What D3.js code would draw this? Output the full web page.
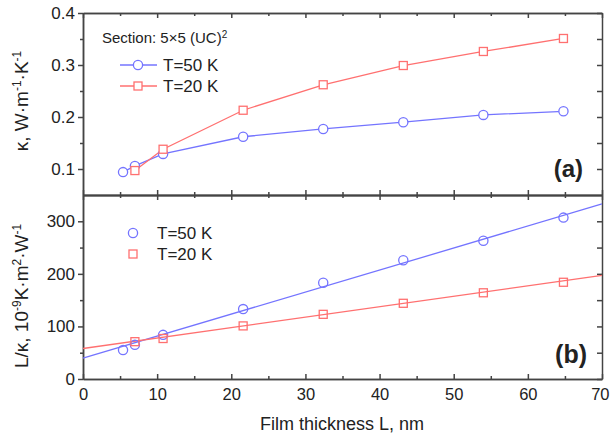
<!DOCTYPE html>
<html lang="en">
<head>
<meta charset="UTF-8">
<title>Thermal conductivity vs film thickness</title>
<script src="https://d3js.org/d3.v7.min.js"></script>
<style>
  body { margin: 0; background: #fff; }
  svg text { font-family: "Liberation Sans", Arial, sans-serif; fill: #222; }
  .frame path, .frame line { stroke: #444; stroke-width: 1.5px; }
</style>
</head>
<body>
<div id="chart"></div>
<script>
// film thickness L, nm
const thick50 = [5.4, 7.0, 10.8, 21.6, 32.4, 43.2, 54.0, 64.8];
const thick20 = [7.0, 10.8, 21.6, 32.4, 43.2, 54.0, 64.8];
// (a) kappa, W/m/K
const kappa50 = [0.094, 0.106, 0.129, 0.162, 0.177, 0.190, 0.204, 0.211];
const kappa20 = [0.097, 0.138, 0.213, 0.262, 0.299, 0.326, 0.351];
// (b) L/kappa
const ratio50 = [55, 65, 84, 133, 183, 226, 263, 307];
const ratio20 = [71, 77, 101, 123, 144, 164, 184];
// linear fits, end points at L = 0 and 70
const fitL = [0, 70];
const fit50 = [39.5, 333];
const fit20 = [58, 197];

const xTicks = [0, 10, 20, 30, 40, 50, 60, 70];
const kappaTicks = [0.1, 0.2, 0.3, 0.4];
const ratioTicks = [0, 100, 200, 300];

const blue = "#7474ff", red = "#ff7070";

const svg = d3.select("#chart").append("svg")
    .attr("width", 610).attr("height", 438);

const x = d3.scaleLinear().domain([0, 70]).range([83, 602]);
const yA = d3.scaleLinear().domain([0.05, 0.4]).range([195, 13]);
const yB = d3.scaleLinear().domain([0, 350]).range([379, 195]);

const minorX = d3.range(5, 70, 10);

function frame(y, ticks, minor, fmt, tickSide) {
    const g = svg.append("g").attr("class", "frame");
    const [y0, y1] = y.range();
    // left axis, outward ticks with labels
    g.append("g").attr("transform", `translate(${x(0)},0)`)
        .call(d3.axisLeft(y).tickValues(ticks).tickFormat(fmt).tickSize(5).tickPadding(3).tickSizeOuter(0))
        .selectAll("text").style("font-size", "17px");
    g.append("g").attr("transform", `translate(${x(0)},0)`)
        .call(d3.axisLeft(y).tickValues(minor).tickFormat("").tickSize(3).tickSizeOuter(0));
    // right axis, inward ticks
    g.append("g").attr("transform", `translate(${x(70)},0)`)
        .call(d3.axisRight(y).tickValues(ticks.concat(minor)).tickFormat("").tickSize(-5).tickSizeOuter(0));
    // bottom axis, inward ticks
    const b = g.append("g").attr("transform", `translate(0,${y0})`);
    b.call(d3.axisBottom(x).tickValues(xTicks).tickSize(-5).tickPadding(9).tickSizeOuter(0)
        .tickFormat(tickSide ? d3.format("d") : ""));
    b.selectAll("text").style("font-size", "16.5px");
    // last label sits on the edge of the page
    b.selectAll("text").filter(d => d === 70).attr("text-anchor", "end").attr("dx", 7);
    g.append("g").attr("transform", `translate(0,${y0})`)
        .call(d3.axisBottom(x).tickValues(minorX).tickFormat("").tickSize(-3).tickSizeOuter(0));
    // top axis, inward ticks
    g.append("g").attr("transform", `translate(0,${y1})`)
        .call(d3.axisTop(x).tickValues(xTicks).tickFormat("").tickSize(-5).tickSizeOuter(0));
    g.append("g").attr("transform", `translate(0,${y1})`)
        .call(d3.axisTop(x).tickValues(minorX).tickFormat("").tickSize(-3).tickSizeOuter(0));
    g.selectAll(".domain").attr("stroke", "#444");
    g.selectAll(".tick line").attr("stroke", "#444");
}

frame(yA, kappaTicks, [0.15, 0.25, 0.35], d3.format(".1f"), false);
frame(yB, ratioTicks, [50, 150, 250], d3.format("d"), true);

function circles(xs, ys, y, fill) {
    svg.append("g").selectAll("circle").data(xs).join("circle")
        .attr("cx", d => x(d)).attr("cy", (d, i) => y(ys[i])).attr("r", 4.6)
        .attr("fill", fill).attr("stroke", blue).attr("stroke-width", 1.3);
}
function squares(xs, ys, y, fill) {
    svg.append("g").selectAll("rect").data(xs).join("rect")
        .attr("x", d => x(d) - 4).attr("y", (d, i) => y(ys[i]) - 4)
        .attr("width", 8).attr("height", 8)
        .attr("fill", fill).attr("stroke", red).attr("stroke-width", 1.3);
}
function line(xs, ys, y, color) {
    svg.append("path").datum(xs)
        .attr("fill", "none").attr("stroke", color).attr("stroke-width", 1.3)
        .attr("d", d3.line().x(d => x(d)).y((d, i) => y(ys[i])));
}

// panel (a)
line(thick50, kappa50, yA, blue);
line(thick20, kappa20, yA, red);
circles(thick50, kappa50, yA, "#fff");
squares(thick20, kappa20, yA, "#fff");

// panel (b)
line(fitL, fit50, yB, blue);
line(fitL, fit20, yB, red);
circles(thick50, ratio50, yB, "none");
squares(thick20, ratio20, yB, "none");

// legend (a)
const sec = svg.append("text").attr("x", 102).attr("y", 43).style("font-size", "15px");
sec.append("tspan").text("Section: 5\u00d75 (UC)");
sec.append("tspan").attr("baseline-shift", "super").style("font-size", "10px").text("2");

const legA = [
    {label: "T=50 K", color: blue, shape: "circle", y: 65},
    {label: "T=20 K", color: red, shape: "square", y: 86}
];
legA.forEach(d => {
    svg.append("line").attr("x1", 120).attr("x2", 157).attr("y1", d.y).attr("y2", d.y)
        .attr("stroke", d.color).attr("stroke-width", 1.3);
    if (d.shape === "circle")
        svg.append("circle").attr("cx", 138).attr("cy", d.y).attr("r", 4.6)
            .attr("fill", "#fff").attr("stroke", d.color).attr("stroke-width", 1.3);
    else
        svg.append("rect").attr("x", 134).attr("y", d.y - 4).attr("width", 8).attr("height", 8)
            .attr("fill", "#fff").attr("stroke", d.color).attr("stroke-width", 1.3);
    svg.append("text").attr("x", 163).attr("y", d.y + 6).style("font-size", "17px").text(d.label);
});

// legend (b)
const legB = [
    {label: "T=50 K", color: blue, shape: "circle", y: 233},
    {label: "T=20 K", color: red, shape: "square", y: 254}
];
legB.forEach(d => {
    if (d.shape === "circle")
        svg.append("circle").attr("cx", 133).attr("cy", d.y).attr("r", 4.6)
            .attr("fill", "none").attr("stroke", d.color).attr("stroke-width", 1.3);
    else
        svg.append("rect").attr("x", 129).attr("y", d.y - 4).attr("width", 8).attr("height", 8)
            .attr("fill", "none").attr("stroke", d.color).attr("stroke-width", 1.3);
    svg.append("text").attr("x", 157).attr("y", d.y + 6).style("font-size", "17px").text(d.label);
});

// panel labels
svg.append("text").attr("x", 583).attr("y", 177).attr("text-anchor", "end")
    .style("font-size", "24px").style("font-weight", "bold").text("(a)");
svg.append("text").attr("x", 587).attr("y", 363).attr("text-anchor", "end")
    .style("font-size", "25px").style("font-weight", "bold").text("(b)");

// axis titles
svg.append("text").attr("x", 342).attr("y", 430).attr("text-anchor", "middle")
    .style("font-size", "18px").text("Film thickness L, nm");

function sup(t, s) {
    t.append("tspan").attr("baseline-shift", "super").style("font-size", "12px").text(s);
}
const ta = svg.append("text").attr("transform", "translate(28,101) rotate(-90)")
    .attr("text-anchor", "middle").style("font-size", "19px");
ta.append("tspan").text("\u03ba, W\u00b7m");
sup(ta, "-1");
ta.append("tspan").text("\u00b7K");
sup(ta, "-1");

const tb = svg.append("text").attr("transform", "translate(28,296) rotate(-90)")
    .attr("text-anchor", "middle").style("font-size", "19px");
tb.append("tspan").text("L/\u03ba, 10");
sup(tb, "-9");
tb.append("tspan").text("K\u00b7m");
sup(tb, "2");
tb.append("tspan").text("\u00b7W");
sup(tb, "-1");
</script>
</body>
</html>
